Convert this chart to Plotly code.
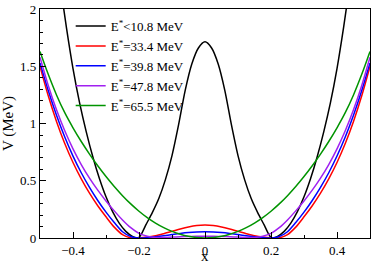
import plotly.graph_objects as go

# half-grid (x >= 0); curves are symmetric in x
x_half = [0, 0.025, 0.05, 0.075, 0.1, 0.125, 0.15, 0.175, 0.2, 0.225, 0.25,
          0.275, 0.3, 0.325, 0.35, 0.375, 0.4, 0.425, 0.45, 0.475, 0.5]

v_red = [0.113, 0.109, 0.097, 0.079, 0.058, 0.038, 0.020, 0.008, 0.002, 0.002, 0.030,
         0.095, 0.185, 0.282, 0.392, 0.517, 0.66, 0.826, 1.019, 1.243, 1.50]
v_blue = [0.055, 0.053, 0.048, 0.040, 0.030, 0.020, 0.010, 0.003, 0.0, 0.013, 0.055,
          0.135, 0.226, 0.328, 0.442, 0.57, 0.716, 0.882, 1.072, 1.288, 1.53]
v_purple = [0.015, 0.015, 0.013, 0.011, 0.008, 0.005, 0.005, 0.015, 0.040, 0.09, 0.158,
            0.237, 0.324, 0.418, 0.523, 0.642, 0.779, 0.937, 1.12, 1.333, 1.58]
v_green = [0.0, 0.004, 0.015, 0.033, 0.058, 0.09, 0.13, 0.178, 0.234, 0.298, 0.37,
           0.45, 0.537, 0.631, 0.733, 0.843, 0.963, 1.095, 1.25, 1.43, 1.63]

x_black_half = [0, 0.02, 0.04, 0.06, 0.08, 0.10, 0.12, 0.14, 0.16, 0.18, 0.19, 0.2,
                0.21, 0.22, 0.24, 0.26, 0.28, 0.30, 0.32, 0.34, 0.36, 0.38, 0.40, 0.42, 0.44]
v_black = [1.714, 1.66, 1.52, 1.29, 0.99, 0.72, 0.51, 0.345, 0.22, 0.11, 0.05, 0.005,
           0.003, 0.014, 0.058, 0.13, 0.23, 0.36, 0.52, 0.71, 0.93, 1.18, 1.48, 1.84, 2.24]

y_ticks = [0, 0.5, 1, 1.5, 2]
y_ticklabels = ["0", "0.5", "1", "1.5", "2"]

labels = ["E<sup>*</sup>&lt;10.8 MeV", "E<sup>*</sup>=33.4 MeV", "E<sup>*</sup>=39.8 MeV",
          "E<sup>*</sup>=47.8 MeV", "E<sup>*</sup>=65.5 MeV"]
colors = ["#000000", "#ff0000", "#0000ff", "#a020f0", "#009400"]


def mirror(xs, vs):
    xx = [-x for x in reversed(xs[1:])] + list(xs)
    vv = list(reversed(vs[1:])) + list(vs)
    return xx, vv


series = [(x_black_half, v_black), (x_half, v_red), (x_half, v_blue),
          (x_half, v_purple), (x_half, v_green)]

fig = go.Figure()
for (xs, vs), lab, col in zip(series, labels, colors):
    xx, vv = mirror(xs, vs)
    fig.add_trace(go.Scatter(x=xx, y=vv, mode="lines", name=lab,
                             line=dict(color=col, width=1.5, shape="spline", smoothing=0.8)))

font = "Liberation Serif, Times New Roman, DejaVu Serif, serif"
fig.update_layout(
    width=374, height=265,
    margin=dict(l=40, r=4, t=9, b=27),
    plot_bgcolor="white", paper_bgcolor="white",
    font=dict(family=font, size=13, color="black"),
    showlegend=True,
    legend=dict(x=0.093, y=0.991, xanchor="left", yanchor="top",
                bgcolor="rgba(0,0,0,0)", font=dict(family=font, size=13, color="black"),
                itemwidth=30, tracegroupgap=0),
    annotations=[dict(text="x", xref="paper", yref="paper", x=0.5, y=-0.08,
                      xanchor="center", yanchor="middle", showarrow=False,
                      font=dict(family=font, size=15, color="black"))],
)
fig.update_xaxes(range=[-0.5, 0.5], showline=True, linecolor="black", linewidth=1.2,
                 mirror=True, ticks="inside", ticklen=6, tickwidth=1, tickcolor="black",
                 tick0=0, dtick=0.2, showgrid=False, zeroline=False, automargin=False,
                 tickfont=dict(family=font, size=13, color="black"),
                 minor=dict(ticks="inside", dtick=0.1, ticklen=3, tickcolor="black", showgrid=False))
fig.update_yaxes(range=[0, 2.001], showline=True, linecolor="black", linewidth=1.2,
                 mirror=True, ticks="inside", ticklen=6, tickwidth=1, tickcolor="black",
                 tickmode="array", tickvals=y_ticks, ticktext=y_ticklabels,
                 showgrid=False, zeroline=False, automargin=False,
                 tickfont=dict(family=font, size=13, color="black"),
                 minor=dict(ticks="inside", dtick=0.1, tick0=0, ticklen=3, tickcolor="black", showgrid=False),
                 title=dict(text="V (MeV)", font=dict(family=font, size=15, color="black"), standoff=4))

# remove the browser's default 8px body margin so the figure sits at the page origin
fig.write_html("out.html", config={"displayModeBar": False},
               post_script="document.body.style.margin='0';")
